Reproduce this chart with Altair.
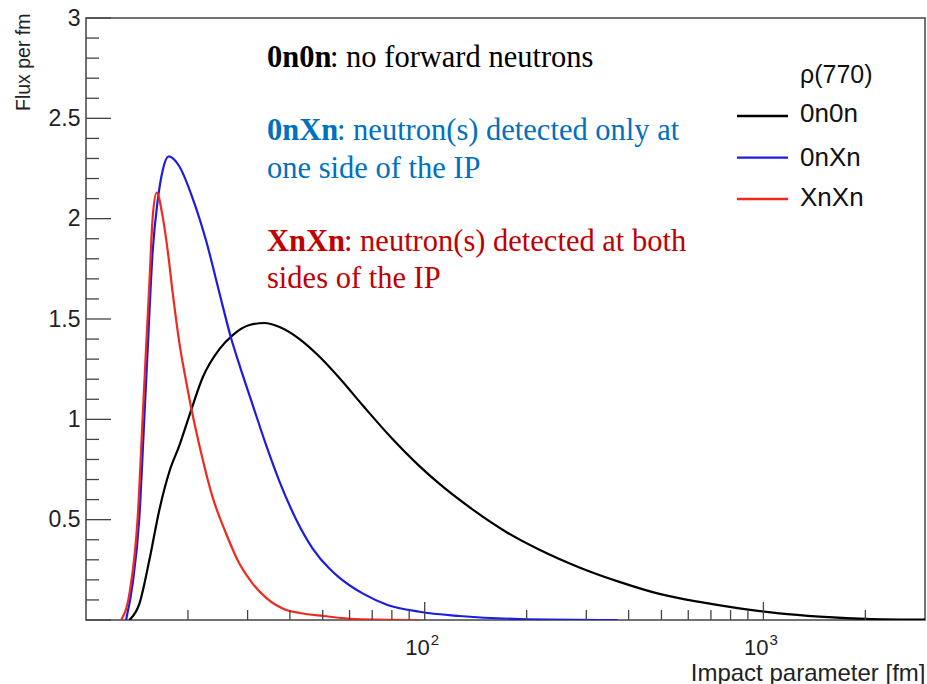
import altair as alt
import pandas as pd

# ---------------- data ----------------
series_names = ["0n0n", "0nXn", "XnXn"]
series_colors = ["#000000", "#1c1ce0", "#f0281e"]

# impact parameter b [fm]  /  flux per fm
b_0n0n = [13.43, 14.37, 15.39, 16.47, 17.63, 18.87, 20.20, 22.12, 24.77, 27.12,
          30.39, 33.65, 37.27, 42.71, 48.93, 56.08, 65.97, 79.84, 96.5, 110.6,
          137.4, 175.5, 218.2, 286.2, 375.7, 493.1, 647.5, 849.3, 1114, 1463,
          2082, 3000]
f_0n0n = [0, 0.08, 0.30, 0.55, 0.74, 0.87, 1.02, 1.21, 1.35, 1.42,
          1.47, 1.48, 1.46, 1.40, 1.312, 1.205, 1.065, 0.907, 0.767, 0.678,
          0.555, 0.435, 0.35, 0.262, 0.19, 0.13, 0.09, 0.058, 0.033, 0.017,
          0.005, 0.002]

b_0nXn = [13.13, 13.73, 14.37, 14.87, 15.21, 15.74, 16.28, 16.84, 17.55, 18.87,
          20.66, 22.63, 24.77, 26.86, 28.39, 31.08, 34.05, 37.27, 41.76, 46.75,
          52.39, 56.08, 65.97, 77.68, 96.5, 126.6, 190.4, 370.7]
f_0nXn = [0, 0.18, 0.51, 1.01, 1.35, 1.84, 2.09, 2.24, 2.31, 2.26,
          2.10, 1.89, 1.63, 1.40, 1.27, 1.07, 0.87, 0.69, 0.50, 0.355,
          0.255, 0.21, 0.13, 0.075, 0.041, 0.02, 0.005, 0.0]

b_XnXn = [12.69, 13.43, 14.21, 14.70, 15.04, 15.39, 15.74, 16.17, 16.84, 17.43,
          18.03, 18.87, 19.75, 20.66, 21.62, 23.67, 25.93, 28.39, 31.08, 34.05,
          39.01, 42.71, 50.28, 62.47, 95.2]
f_XnXn = [0, 0.13, 0.51, 1.01, 1.35, 1.68, 2.01, 2.13, 2.01, 1.84,
          1.63, 1.38, 1.19, 1.02, 0.87, 0.61, 0.43, 0.28, 0.18, 0.11,
          0.05, 0.035, 0.02, 0.005, 0]

y_labels = [0.5, 1, 1.5, 2, 2.5, 3]
y_major = [0, 0.5, 1, 1.5, 2, 2.5, 3]
y_minor = [0.1, 0.2, 0.3, 0.4, 0.6, 0.7, 0.8, 0.9, 1.1, 1.2, 1.3, 1.4,
           1.6, 1.7, 1.8, 1.9, 2.1, 2.2, 2.3, 2.4, 2.6, 2.7, 2.8, 2.9]
x_major = [100, 1000]
x_major_base = ["10", "10"]
x_major_exp = ["2", "3"]
x_minor = [20, 30, 40, 50, 60, 70, 80, 90, 200, 300, 400, 500, 600, 700,
           800, 900, 2000]

legend_title = "ρ(770)"
note_heads = ["0n0n", "0nXn", "XnXn"]
note_tails = [": no forward neutrons", ": neutron(s) detected only at",
              ": neutron(s) detected at both"]
note_second = ["", "one side of the IP", "sides of the IP"]
note_colors = ["#000000", "#0070c0", "#c00000"]

# ---------------- build ----------------
rows = []
for name, bs, fs in zip(series_names, [b_0n0n, b_0nXn, b_XnXn],
                        [f_0n0n, f_0nXn, f_XnXn]):
    for i, (b, f) in enumerate(zip(bs, fs)):
        rows.append({"series": name, "b": b, "flux": f, "i": i})
df = pd.DataFrame(rows)

W, H = 839, 602
SANS = "Liberation Sans"
SERIF = "Liberation Serif"
AXC = "#444444"
TXT = "#222222"

xscale = alt.Scale(type="log", domain=[10, 3000], nice=False)
yscale = alt.Scale(domain=[0, 3], nice=False, zero=False)

x_axis = alt.Axis(values=x_major, labels=False,
                  ticks=False, tickSize=0, domain=False, grid=False,
                  title="Impact parameter [fm]", titleFont=SANS,
                  titleFontSize=24, titleFontWeight="normal", titleColor=TXT,
                  titleX=W, titleY=60, titleAlign="right",
                  titleBaseline="alphabetic")
y_axis = alt.Axis(values=y_labels, format="~g", ticks=False, tickSize=0, domain=False,
                  grid=False, labelFont=SANS, labelFontSize=23,
                  labelColor=TXT, labelPadding=6,
                  title="Flux per fm", titleFont=SANS, titleFontSize=19.5,
                  titleFontWeight="normal", titleColor=TXT,
                  titleAngle=270, titleX=-57, titleY=-5, titleAlign="right",
                  titleBaseline="alphabetic")

lines = alt.Chart(df).mark_line(strokeWidth=2.2, interpolate="monotone", clip=True).encode(
    x=alt.X("b:Q", scale=xscale, axis=x_axis),
    y=alt.Y("flux:Q", scale=yscale, axis=y_axis),
    color=alt.Color("series:N", scale=alt.Scale(domain=series_names, range=series_colors),
                    legend=None),
    order="i:Q",
)

def xticks(vals, length):
    return alt.Chart(pd.DataFrame({"b": vals})).mark_rule(color=AXC, strokeWidth=1.3).encode(
        x=alt.X("b:Q", scale=xscale, axis=x_axis),
        y=alt.value(H), y2=alt.value(H - length))

def yticks(vals, length):
    return alt.Chart(pd.DataFrame({"flux": vals})).mark_rule(color=AXC, strokeWidth=1.3).encode(
        y=alt.Y("flux:Q", scale=yscale, axis=y_axis),
        x=alt.value(0), x2=alt.value(length))

# x tick labels 10^2, 10^3 drawn at their scale positions
xlab_df = pd.DataFrame({"b": x_major, "base": x_major_base, "exp": x_major_exp})
xlab_base = alt.Chart(xlab_df).mark_text(
    align="right", baseline="alphabetic", font=SANS, fontSize=22, color=TXT, dx=5).encode(
    x=alt.X("b:Q", scale=xscale, axis=x_axis), y=alt.value(H + 35), text="base:N")
xlab_exp = alt.Chart(xlab_df).mark_text(
    align="left", baseline="alphabetic", font=SANS, fontSize=15, color=TXT, dx=6).encode(
    x=alt.X("b:Q", scale=xscale, axis=x_axis), y=alt.value(H + 25), text="exp:N")

layers = [lines, xticks(x_minor, 10), xticks(x_major, 18), yticks(y_minor, 13),
          yticks(y_major, 25), xlab_base, xlab_exp]

def text(t, x, y, color, size, font, weight="normal", baseline="alphabetic"):
    return alt.Chart(pd.DataFrame({"t": [t]})).mark_text(
        align="left", baseline=baseline, font=font, fontSize=size,
        fontWeight=weight, color=color).encode(
        x=alt.value(x), y=alt.value(y), text="t:N")

# annotations
head_x = 181
tail_x = [244, 251, 258]
line1_y = [49, 122, 233]
line2_y = [None, 160, 270]
NOTE_SIZE = 30.5
for k in range(3):
    layers.append(text(note_heads[k], head_x, line1_y[k], note_colors[k], NOTE_SIZE, SERIF, "bold"))
    layers.append(text(note_tails[k], tail_x[k], line1_y[k], note_colors[k], NOTE_SIZE, SERIF))
    if note_second[k]:
        layers.append(text(note_second[k], head_x, line2_y[k], note_colors[k], NOTE_SIZE, SERIF))

# legend
leg_x0, leg_x1, leg_tx = 651, 702, 714
leg_line_y = [98, 139.7, 181]
leg_text_y = [104, 147.5, 187.5]
layers.append(text(legend_title, leg_tx, 65, "#111111", 25, SANS))
for k, (name, col) in enumerate(zip(series_names, series_colors)):
    layers.append(alt.Chart(pd.DataFrame({"n": [name]})).mark_rule(color=col, strokeWidth=2.3).encode(
        x=alt.value(leg_x0), x2=alt.value(leg_x1), y=alt.value(leg_line_y[k])))
    layers.append(text(name, leg_tx, leg_text_y[k], "#111111", 26, SANS))

chart = alt.layer(*layers).properties(
    width=W, height=H,
    padding={"left": 86, "top": 18, "right": 2, "bottom": 64},
    autosize=alt.AutoSizeParams(type="none"),
    background="white",
).configure_view(stroke=AXC, strokeWidth=1.5)

chart.save("out.html", embed_options={"renderer": "svg", "actions": False})
